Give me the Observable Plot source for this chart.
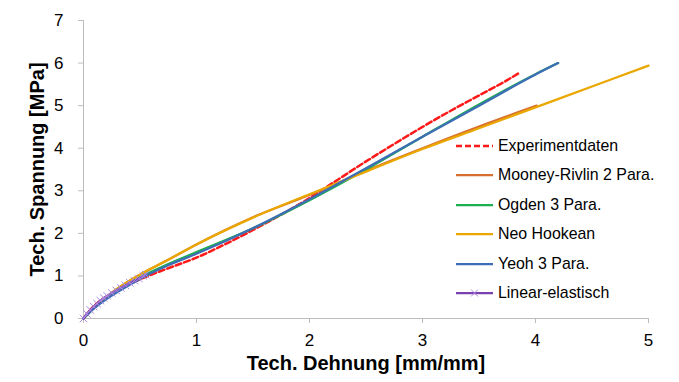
<!DOCTYPE html>
<html>
<head>
<meta charset="utf-8">
<script src="https://cdn.jsdelivr.net/npm/d3@7"></script>
<script src="https://cdn.jsdelivr.net/npm/@observablehq/plot@0.6"></script>
<style>
  body { margin: 0; background: #fff; }
  #wrap { position: relative; width: 679px; height: 382px; font-family: "Liberation Sans", Arial, sans-serif; }
  #legend { position: absolute; left: 456px; top: 131px; }
  .row { display: flex; align-items: center; height: 29.5px; font-size: 15.9px; color: #000; }
  .row svg { margin-right: 5px; }
</style>
</head>
<body>
<div id="wrap"><div id="legend"></div></div>
<script>
const seriesNames = ["Experimentdaten", "Mooney-Rivlin 2 Para.", "Ogden 3 Para.", "Neo Hookean", "Yeoh 3 Para.", "Linear-elastisch"];
const seriesColors = ["#FF1A1A", "#D7702F", "#1DAE52", "#EAA700", "#3D6EB5", "#7A3FB0"];

const expX = [0, 0.05, 0.1, 0.2, 0.3, 0.5, 0.75, 1.0, 1.25, 1.5, 1.75, 2.0, 2.25, 2.5, 2.75, 3.0, 3.25, 3.5, 3.75, 3.85];
const expY = [0, 0.17, 0.31, 0.51, 0.66, 0.92, 1.18, 1.43, 1.74, 2.08, 2.44, 2.83, 3.26, 3.69, 4.1, 4.5, 4.88, 5.24, 5.6, 5.76];

const mrX = [0, 0.1, 0.2, 0.3, 0.5, 0.75, 1.0, 1.5, 2.0, 2.5, 3.0, 3.5, 4.01];
const mrY = [0, 0.28, 0.5, 0.7, 1.03, 1.38, 1.74, 2.38, 2.9, 3.47, 4.0, 4.51, 5.0];

const ogX = [0, 0.1, 0.2, 0.3, 0.5, 0.75, 1.0, 1.5, 2.0, 2.5, 3.0, 3.5, 4.0, 4.2];
const ogY = [0, 0.28, 0.49, 0.66, 0.97, 1.28, 1.56, 2.12, 2.78, 3.5, 4.27, 5.03, 5.74, 6.0];

const nhX = [0, 0.1, 0.2, 0.3, 0.5, 0.75, 1.0, 1.5, 2.0, 2.5, 3.0, 3.5, 4.0, 4.5, 5.0];
const nhY = [0, 0.27, 0.5, 0.7, 1.03, 1.38, 1.74, 2.37, 2.92, 3.45, 3.98, 4.47, 4.96, 5.45, 5.94];

const yeX = [0, 0.1, 0.2, 0.3, 0.5, 0.75, 1.0, 1.5, 2.0, 2.5, 3.0, 3.5, 4.0, 4.2];
const yeY = [0, 0.25, 0.45, 0.62, 0.93, 1.25, 1.52, 2.12, 2.8, 3.53, 4.27, 5.0, 5.73, 6.0];

const linX = [0, 0.03, 0.06, 0.09, 0.12, 0.15, 0.18, 0.21, 0.25, 0.29, 0.33, 0.37, 0.41, 0.45, 0.49, 0.53, 0.55];
const linY = [0, 0.11, 0.2, 0.28, 0.35, 0.42, 0.48, 0.53, 0.6, 0.66, 0.72, 0.78, 0.84, 0.89, 0.94, 1.0, 1.03];

const xTicks = [0, 1, 2, 3, 4, 5];
const yTicks = [0, 1, 2, 3, 4, 5, 6, 7];
const xTitle = "Tech. Dehnung [mm/mm]";
const yTitle = "Tech. Spannung [MPa]";

const toRows = (xs, ys) => xs.map((x, i) => ({x, y: ys[i]}));
const exp = toRows(expX, expY), mr = toRows(mrX, mrY), og = toRows(ogX, ogY),
      nh = toRows(nhX, nhY), ye = toRows(yeX, yeY), lin = toRows(linX, linY);

const axisColor = "#BDBDBD";
const smooth = "monotone-x";
const chart = Plot.plot({
  width: 679, height: 382,
  marginLeft: 83, marginRight: 31, marginTop: 20, marginBottom: 64,
  style: {fontFamily: "'Liberation Sans', Arial, sans-serif", fontSize: "17px", color: "#000", background: "#fff"},
  x: {domain: [0, 5]},
  y: {domain: [0, 7]},
  marks: [
    Plot.ruleX([0], {stroke: axisColor, strokeWidth: 1}),
    Plot.ruleY([0], {stroke: axisColor, strokeWidth: 1}),
    Plot.axisX({ticks: xTicks, tickFormat: d => String(d), tickSize: 5, tickPadding: 10, stroke: axisColor, label: null, fill: "#000", fontSize: 17}),
    Plot.axisY({ticks: yTicks, tickFormat: d => String(d), tickSize: 5, tickPadding: 15, stroke: axisColor, label: null, fill: "#000", fontSize: 17}),
    Plot.line(exp, {x: "x", y: "y", stroke: seriesColors[0], strokeWidth: 2.5, strokeDasharray: "6,3", curve: smooth}),
    Plot.line(mr, {x: "x", y: "y", stroke: seriesColors[1], strokeWidth: 2.25, curve: smooth}),
    Plot.line(og, {x: "x", y: "y", stroke: seriesColors[2], strokeWidth: 2.25, curve: smooth}),
    Plot.line(nh, {x: "x", y: "y", stroke: seriesColors[3], strokeWidth: 2.25, curve: smooth}),
    Plot.line(ye, {x: "x", y: "y", stroke: seriesColors[4], strokeWidth: 2.25, curve: smooth}),
    Plot.line(lin, {x: "x", y: "y", stroke: seriesColors[5], strokeWidth: 2.25, curve: smooth}),
    Plot.dot(lin, {x: "x", y: "y", symbol: "times", r: 3.5, stroke: "#A98BE3", strokeWidth: 1}),
    Plot.text([xTitle], {frameAnchor: "bottom", dy: 45, lineAnchor: "middle", textAnchor: "middle", text: d => d, fontWeight: "bold", fontSize: 20}),
    Plot.text([yTitle], {frameAnchor: "left", dx: -46, rotate: -90, lineAnchor: "middle", textAnchor: "middle", text: d => d, fontWeight: "bold", fontSize: 20})
  ]
});
document.getElementById("wrap").prepend(chart);

const legend = document.getElementById("legend");
seriesNames.forEach((name, i) => {
  const row = document.createElement("div");
  row.className = "row";
  let sample = `<svg width="37" height="12"><line x1="0" y1="6" x2="37" y2="6" stroke="${seriesColors[i]}" stroke-width="${i === 0 ? 2.5 : 2.25}" ${i === 0 ? 'stroke-dasharray="6,3"' : ''}/>`;
  if (i === 5) sample += `<path d="M15,2.5L22,9.5M22,2.5L15,9.5" stroke="#A98BE3" stroke-width="1"/>`;
  sample += `</svg>`;
  row.innerHTML = sample + `<span>${name}</span>`;
  legend.appendChild(row);
});
</script>
</body>
</html>
